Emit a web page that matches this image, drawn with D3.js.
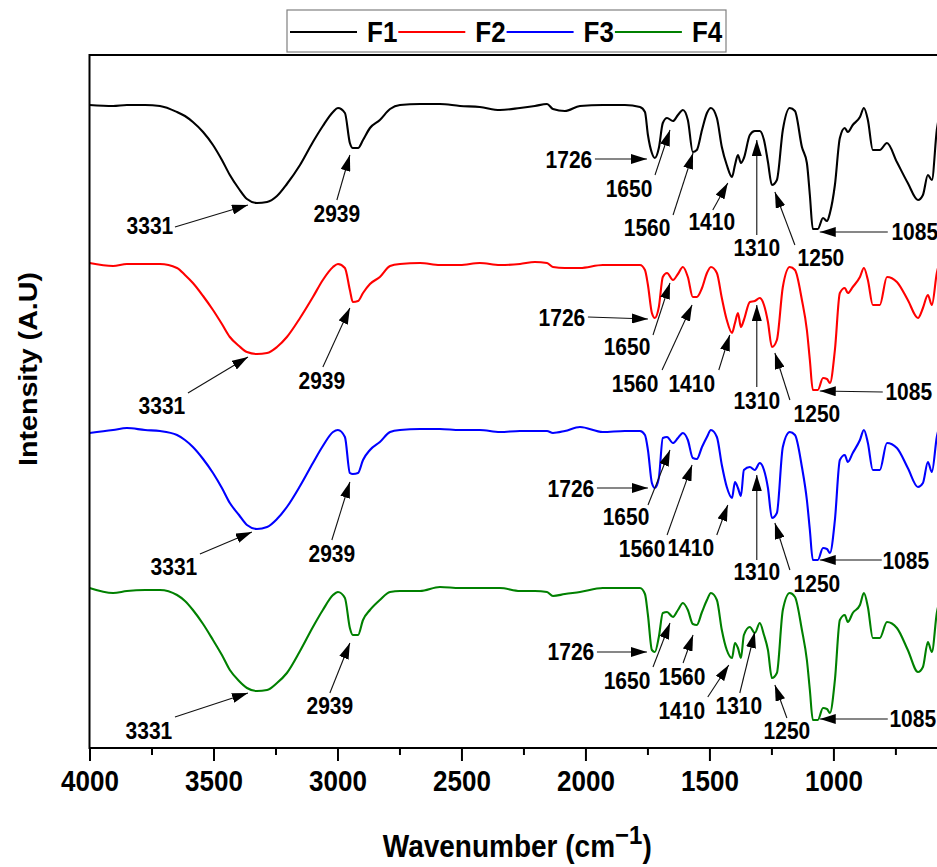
<!DOCTYPE html>
<html>
<head>
<meta charset="utf-8">
<script src="https://d3js.org/d3.v7.min.js"></script>
<style>
  body { margin: 0; background: #fff; }
  text { font-family: "Liberation Sans", Arial, sans-serif; font-weight: bold; fill: #000; }
</style>
</head>
<body>
<div id="chart"></div>
<script>
// wavenumber grid (cm-1) shared by all four spectra
var wavenumber = [4000, 3905, 3849, 3776, 3716, 3647, 3615, 3583, 3542, 3502, 3466, 3434, 3397, 3365, 3325, 3284,
  3244, 3204, 3151, 3099, 3059, 3018, 2998, 2970, 2950, 2938, 2917, 2897, 2869, 2829, 2788, 2748, 2667, 2587,
  2506, 2426, 2345, 2264, 2204, 2155, 2131, 2083, 2022, 1930, 1841, 1780, 1760, 1748, 1732, 1720, 1704, 1688,
  1671, 1647, 1627, 1607, 1587, 1567, 1551, 1530, 1510, 1494, 1470, 1450, 1430, 1409, 1397, 1385, 1373, 1361,
  1337, 1317, 1297, 1280, 1264, 1248, 1228, 1204, 1176, 1155, 1127, 1107, 1095, 1083, 1063, 1042, 1026, 1014,
  994, 974, 954, 942, 922, 893, 877, 861, 841, 813, 784, 744, 700, 659, 639, 619, 603, 583, 563];

// stacked intensities (A.U), offset as in the figure
var f1 = [64.3, 64.2, 64.3, 64.3, 64.2, 63.6, 63.2, 62.6, 61.6, 60.3, 58.8, 57.3, 55.9, 54.9, 54.5, 54.6,
  55.2, 56.4, 58.3, 60.6, 62.2, 63.6, 64.0, 63.5, 60.5, 60.0, 60.0, 60.8, 62.0, 62.8, 63.9, 64.3, 64.4, 64.4,
  64.2, 64.1, 63.8, 64.0, 64.2, 64.4, 63.9, 63.7, 64.2, 64.3, 64.3, 64.1, 63.6, 61.3, 59.5, 59.0, 60.0, 62.5,
  63.0, 62.7, 63.3, 63.8, 62.8, 59.6, 59.8, 61.8, 63.5, 64.0, 63.0, 60.1, 58.3, 57.1, 58.3, 59.3, 58.5, 59.0,
  61.3, 61.7, 61.7, 60.8, 58.6, 56.3, 56.8, 61.8, 64.0, 63.7, 60.1, 58.5, 55.3, 51.9, 51.9, 53.0, 52.7, 53.5,
  56.3, 61.0, 62.0, 61.6, 62.3, 63.1, 64.0, 62.8, 59.8, 59.8, 60.5, 58.6, 56.5, 54.8, 55.3, 57.3, 56.8, 61.8, 64.3];
var f2 = [48.5, 48.2, 48.4, 48.4, 48.4, 48.0, 47.3, 46.5, 45.2, 43.8, 42.4, 41.1, 40.2, 39.6, 39.4, 39.5,
  40.1, 41.1, 43.0, 45.1, 46.8, 48.1, 48.4, 48.0, 45.8, 44.6, 44.7, 45.5, 46.4, 47.1, 48.2, 48.4, 48.5, 48.3,
  48.3, 48.5, 48.3, 48.4, 48.6, 48.5, 48.1, 48.0, 48.0, 48.3, 48.3, 48.3, 47.8, 46.3, 43.5, 43.0, 44.1, 47.1,
  47.5, 46.8, 47.4, 48.1, 47.1, 45.1, 45.1, 46.0, 47.5, 48.1, 47.5, 45.0, 42.8, 41.5, 42.5, 43.5, 42.1, 42.8,
  44.6, 44.7, 45.0, 44.3, 42.6, 40.1, 40.8, 46.1, 48.1, 47.8, 44.8, 41.8, 38.8, 35.8, 35.8, 37.0, 36.9, 36.5,
  39.8, 45.5, 46.0, 45.5, 46.1, 47.1, 48.0, 46.8, 44.3, 44.3, 47.1, 46.6, 44.8, 43.0, 44.0, 45.3, 44.3, 47.5, 49.3];
var f3 = [31.5, 31.8, 32.0, 31.8, 31.7, 31.3, 30.8, 30.1, 28.9, 27.5, 26.0, 24.5, 23.3, 22.3, 21.9, 22.1,
  22.9, 24.1, 26.2, 28.5, 30.2, 31.6, 31.8, 31.1, 27.5, 27.4, 27.5, 28.8, 29.8, 30.6, 31.6, 31.8, 31.9, 31.9,
  31.8, 31.8, 31.6, 31.7, 31.7, 31.7, 31.5, 31.7, 32.1, 31.6, 31.7, 31.7, 31.3, 29.8, 26.5, 26.0, 27.0, 31.0,
  31.1, 30.5, 31.0, 31.5, 30.8, 29.0, 28.9, 30.1, 31.1, 31.8, 31.1, 28.3, 26.1, 25.0, 26.6, 26.0, 25.2, 27.8,
  28.1, 27.8, 28.5, 27.8, 26.0, 23.0, 23.5, 30.1, 31.6, 31.3, 28.1, 24.8, 21.8, 18.8, 18.8, 20.0, 19.9, 19.5,
  22.8, 28.8, 29.3, 28.6, 29.5, 30.8, 31.8, 30.5, 27.8, 27.8, 30.5, 30.0, 28.0, 26.1, 26.5, 28.6, 27.6, 31.1, 32.8];
var f4 = [16.0, 15.5, 15.7, 15.8, 15.8, 15.3, 14.7, 13.8, 12.4, 10.8, 9.3, 7.8, 6.7, 6.0, 5.7, 5.8,
  6.5, 7.5, 9.7, 12.1, 13.8, 15.3, 15.6, 15.0, 12.0, 11.3, 11.3, 12.8, 13.8, 14.8, 15.6, 15.7, 15.7, 16.1,
  16.0, 16.0, 16.0, 15.7, 15.7, 15.6, 15.2, 15.4, 15.6, 16.0, 16.0, 16.0, 15.4, 13.3, 9.8, 9.6, 11.1, 13.5,
  13.6, 13.1, 13.8, 14.5, 13.8, 12.4, 12.3, 13.6, 14.8, 15.5, 14.8, 11.8, 9.8, 9.0, 10.5, 10.0, 9.0, 11.3,
  12.1, 11.5, 12.5, 11.3, 9.8, 7.0, 7.5, 13.8, 15.5, 15.1, 11.8, 8.8, 5.8, 2.8, 2.8, 4.0, 3.9, 3.5,
  6.8, 12.8, 13.3, 12.6, 13.5, 14.3, 15.5, 14.1, 11.0, 11.0, 12.6, 12.0, 9.8, 7.6, 8.1, 10.6, 9.6, 13.5, 15.3];

var seriesNames = ["F1", "F2", "F3", "F4"];
var seriesValues = [f1, f2, f3, f4];
var majorTicks = [4000, 3500, 3000, 2500, 2000, 1500, 1000];
var minorTicks = [3750, 3250, 2750, 2250, 1750, 1250, 750];

// peak labels and arrow tips (wavenumber, intensity)
var peakLabels = ["3331","2939","1726","1650","1560","1410","1310","1250","1085",
  "3331","2939","1726","1650","1560","1410","1310","1250","1085",
  "3331","2939","1726","1650","1560","1410","1310","1250","1085",
  "3331","2939","1726","1650","1560","1410","1310","1250","1085"];
var peakTipW = [3361, 2950, 1752, 1659, 1566, 1426, 1309, 1236, 1055,
  3361, 2950, 1748, 1659, 1570, 1418, 1309, 1236, 1055,
  3345, 2950, 1748, 1659, 1570, 1426, 1309, 1236, 1055,
  3361, 2950, 1752, 1659, 1566, 1422, 1317, 1236, 1055];
var peakTipV = [54.3, 59.3, 58.9, 61.8, 59.5, 56.5, 60.8, 55.6, 51.6,
  39.1, 44.0, 42.9, 46.5, 44.3, 41.3, 44.3, 39.5, 35.7,
  21.6, 26.6, 26.0, 29.8, 28.3, 24.3, 27.3, 22.5, 18.8,
  5.5, 10.5, 9.6, 12.5, 11.3, 8.3, 11.6, 6.3, 2.9];
// arrow tail and label centre, offsets in px from the tip
var peakOffsets = [
  [-73, 22, -98, 21], [-13, 45, -13, 59], [-52, 0, -78, 1], [-15, 45, -41, 59], [-20, 62, -46, 75],
  [-15, 27, -16, 39], [0, 95, 0, 108], [20, 53, 46, 66], [68, 0, 95, 0],
  [-60, 36, -86, 49], [-27, 59, -28, 73], [-60, -2, -86, -1], [-17, 52, -43, 64], [-30, 65, -57, 79],
  [-11, 35, -38, 49], [0, 82, 0, 96], [15, 47, 42, 61], [63, 1, 89, 1],
  [-52, 22, -78, 35], [-18, 58, -18, 72], [-51, 0, -77, 1], [-22, 55, -44, 67], [-25, 70, -50, 84],
  [-11, 30, -37, 43], [0, 85, 0, 97], [15, 47, 42, 61], [62, 0, 86, 1],
  [-73, 24, -99, 38], [-20, 50, -20, 63], [-50, 0, -76, 0], [-17, 44, -43, 58], [-10, 28, -11, 42],
  [-21, 32, -47, 46], [-15, 61, -16, 74], [12, 33, 12, 46], [68, 0, 93, 0]];

var colors = ["#000000", "#ff0000", "#0000ff", "#008000"];

var W = 937, H = 867;
var pLeft = 89.5, pTop = 55, pRight = 945, pBottom = 748;
var stretchY = 1.1; // the figure's lettering is slightly taller than wide

var svg = d3.select("#chart").append("svg")
  .attr("width", W).attr("height", H);

var defs = svg.append("defs");
defs.append("marker")
  .attr("id", "head")
  .attr("markerUnits", "userSpaceOnUse")
  .attr("markerWidth", 16).attr("markerHeight", 10)
  .attr("refX", 16).attr("refY", 5)
  .attr("orient", "auto")
  .append("path").attr("d", "M0,0L16,5L0,10Z").attr("fill", "#000");
defs.append("clipPath").attr("id", "plotclip")
  .append("rect").attr("x", pLeft).attr("y", pTop).attr("width", pRight - pLeft).attr("height", pBottom - pTop);

var x = d3.scaleLinear().domain([4000, 550]).range([pLeft, pRight]);
var y = d3.scaleLinear().domain([0, 69.3]).range([pBottom, pTop]);

// spectra
var line = d3.line()
  .x(function(d) { return x(d[0]); })
  .y(function(d) { return y(d[1]); })
  .curve(d3.curveMonotoneX);

var plot = svg.append("g").attr("clip-path", "url(#plotclip)");
seriesValues.forEach(function(vals, i) {
  var pts = wavenumber.map(function(w, k) { return [w, vals[k]]; });
  plot.append("path")
    .datum(pts)
    .attr("d", line)
    .attr("fill", "none")
    .attr("stroke", colors[i])
    .attr("stroke-width", 2.1)
    .attr("stroke-linejoin", "round");
});

// x axis
var xAxis = svg.append("g")
  .attr("transform", "translate(0," + pBottom + ")")
  .call(d3.axisBottom(x).tickValues(majorTicks).tickSize(13).tickPadding(11).tickFormat(d3.format("d")));
xAxis.select(".domain").remove();
xAxis.selectAll(".tick line").attr("stroke", "#000").attr("stroke-width", 2);
xAxis.selectAll(".tick text")
  .attr("y", 0)
  .attr("transform", "translate(0,23) scale(1," + stretchY + ")")
  .style("font-family", "'Liberation Sans', Arial, sans-serif")
  .style("font-weight", "bold")
  .style("font-size", "26px")
  .attr("fill", "#000");

var xMinor = svg.append("g")
  .attr("transform", "translate(0," + pBottom + ")")
  .call(d3.axisBottom(x).tickValues(minorTicks).tickSize(7).tickFormat(""));
xMinor.select(".domain").remove();
xMinor.selectAll(".tick line").attr("stroke", "#000").attr("stroke-width", 2);

// frame
svg.append("rect")
  .attr("x", pLeft).attr("y", pTop)
  .attr("width", pRight - pLeft).attr("height", pBottom - pTop)
  .attr("fill", "none").attr("stroke", "#000").attr("stroke-width", 2);

// peak annotations
var ann = svg.append("g");
peakLabels.forEach(function(lbl, i) {
  var tx = x(peakTipW[i]), ty = y(peakTipV[i]);
  var o = peakOffsets[i];
  ann.append("line")
    .attr("x1", tx + o[0]).attr("y1", ty + o[1])
    .attr("x2", tx).attr("y2", ty)
    .attr("stroke", "#111").attr("stroke-width", 1.1)
    .attr("marker-end", "url(#head)");
  ann.append("text")
    .attr("transform", "translate(" + (tx + o[2]) + "," + (ty + o[3]) + ") scale(1," + stretchY + ")")
    .attr("dy", "0.36em")
    .attr("text-anchor", "middle")
    .style("font-size", "21px")
    .text(lbl);
});

// axis titles
svg.append("text")
  .attr("transform", "translate(37,369) rotate(-90) scale(" + stretchY + ",1)")
  .attr("text-anchor", "middle")
  .style("font-size", "26px")
  .text("Intensity (A.U)");

var xt = svg.append("text")
  .attr("transform", "translate(" + ((pLeft + pRight) / 2) + ",857) scale(1," + stretchY + ")")
  .attr("text-anchor", "middle")
  .style("font-size", "28px");
xt.append("tspan").text("Wavenumber (cm");
xt.append("tspan").attr("dy", -12).style("font-size", "24px").text("\u22121");
xt.append("tspan").attr("dy", 12).text(")");

// legend
var lg = svg.append("g");
lg.append("rect")
  .attr("x", 287).attr("y", 10).attr("width", 439).attr("height", 42)
  .attr("fill", "#fff").attr("stroke", "#808080").attr("stroke-width", 1.2);
seriesNames.forEach(function(name, i) {
  var x0 = 290 + i * 108.3;
  lg.append("line")
    .attr("x1", x0).attr("x2", x0 + 67)
    .attr("y1", 32).attr("y2", 32)
    .attr("stroke", colors[i]).attr("stroke-width", 2);
  lg.append("text")
    .attr("transform", "translate(" + (x0 + 77) + ",42) scale(1," + stretchY + ")")
    .style("font-size", "26px")
    .text(name);
});
</script>
</body>
</html>
